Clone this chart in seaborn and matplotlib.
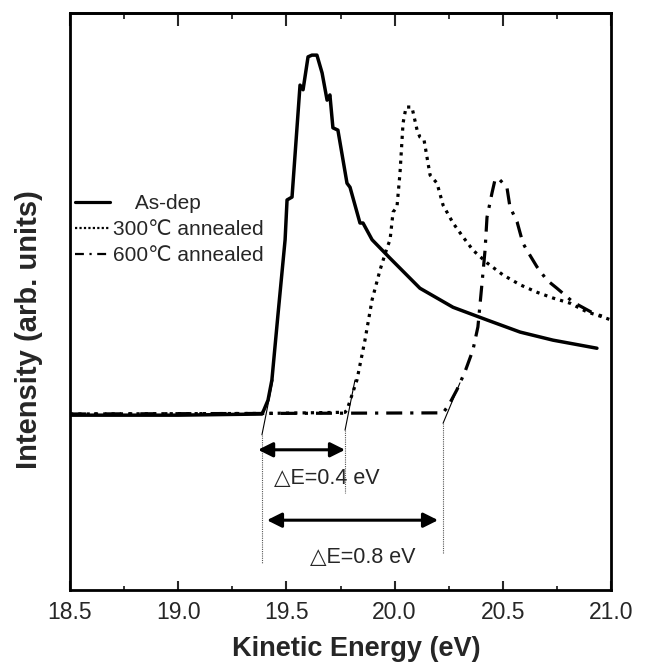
import matplotlib
matplotlib.use("Agg")
import matplotlib.pyplot as plt
import seaborn as sns
import pandas as pd
from matplotlib.lines import Line2D

# ---------------- data ----------------
asdep_E = [18.50, 19.00, 19.387, 19.396, 19.415, 19.433, 19.461, 19.494, 19.503, 19.526,
           19.563, 19.577, 19.600, 19.618, 19.641, 19.665, 19.688, 19.701, 19.715, 19.738,
           19.780, 19.794, 19.840, 19.854, 19.896, 19.979, 20.048, 20.117, 20.270, 20.427,
           20.580, 20.732, 20.935]
asdep_I = [30.3, 30.3, 30.5, 31.2, 32.9, 36.4, 47.7, 60.7, 67.6, 68.1,
           87.5, 86.7, 92.4, 92.7, 92.7, 89.6, 84.9, 85.8, 80.1, 79.7,
           70.5, 69.8, 63.6, 63.6, 60.7, 57.5, 54.9, 52.3, 49.0, 46.8,
           44.7, 43.3, 41.9]

ann300_E = [18.50, 19.40, 19.771, 19.780, 19.803, 19.826, 19.863, 19.896, 19.933, 19.965,
            19.979, 19.993, 20.011, 20.025, 20.039, 20.053, 20.080, 20.104, 20.117, 20.136,
            20.164, 20.196, 20.224, 20.270, 20.316, 20.362, 20.427, 20.501, 20.580, 20.658,
            20.732, 20.811, 20.889, 20.963, 21.0]
ann300_I = [30.5, 30.6, 30.8, 31.2, 33.8, 36.4, 43.3, 50.3, 55.5, 59.3,
            60.7, 65.5, 66.4, 72.3, 80.9, 83.7, 83.7, 79.7, 78.5, 78.0,
            71.9, 70.5, 66.7, 63.6, 61.2, 58.9, 56.7, 54.6, 52.9, 51.6,
            50.6, 49.7, 48.2, 47.3, 46.8]

ann600_E = [18.50, 19.40, 20.224, 20.251, 20.288, 20.325, 20.362, 20.385, 20.404, 20.418,
            20.427, 20.450, 20.464, 20.478, 20.519, 20.533, 20.566, 20.593, 20.616, 20.658,
            20.704, 20.750, 20.797, 20.824, 20.917, 20.972]
ann600_I = [30.5, 30.6, 30.7, 32.1, 34.7, 37.8, 41.6, 45.6, 53.2, 58.9,
            64.6, 68.8, 71.1, 71.4, 69.8, 66.4, 63.8, 60.1, 58.6, 56.0,
            53.7, 52.3, 50.8, 49.9, 48.0, 47.3]

series_labels = ["    As-dep", "300\u2103 annealed", "600\u2103 annealed"]

# onset (extrapolated) energies and tangent lines
onset_E = [19.387, 19.771, 20.224]
tangent_top_E = [19.438, 19.817, 20.302]
tangent_top_I = [36.4, 36.4, 35.9]
tangent_bot_I = [26.9, 27.7, 28.9]
guide_bot_I = [4.7, 16.8, 6.4]

delta_labels = ["\u25b3E=0.4 eV", "\u25b3E=0.8 eV"]

x_major = [18.5, 19.0, 19.5, 20.0, 20.5, 21.0]
x_minor = [18.75, 19.25, 19.75, 20.25, 20.75]

# ---------------- style ----------------
sns.set_style("ticks")
plt.rcParams["font.family"] = ["Liberation Sans", "DejaVu Sans"]

fig = plt.figure(figsize=(6.48, 6.66), dpi=100)
ax = fig.add_axes([70 / 648, 76 / 666, 541 / 648, 577 / 666])

df1 = pd.DataFrame({"E": asdep_E, "I": asdep_I})
df2 = pd.DataFrame({"E": ann300_E, "I": ann300_I})
df3 = pd.DataFrame({"E": ann600_E, "I": ann600_I})

sns.lineplot(data=df3, x="E", y="I", ax=ax, color="black", lw=2.3, sort=False,
             estimator=None, linestyle=(0, (5, 2.5, 1, 2.5)))
sns.lineplot(data=df2, x="E", y="I", ax=ax, color="black", lw=2.3, sort=False,
             estimator=None, linestyle=(0, (1, 1.6)))
sns.lineplot(data=df1, x="E", y="I", ax=ax, color="black", lw=2.5, sort=False,
             estimator=None, linestyle="-")

# tangent lines and onset guides
for e0, et, it, ib, gb in zip(onset_E, tangent_top_E, tangent_top_I, tangent_bot_I, guide_bot_I):
    ax.plot([et, e0], [it, ib], color="black", lw=0.8)
    ax.plot([e0, e0], [ib, gb], color="#555555", lw=0.8, linestyle=(0, (1, 1)))

# delta-E arrows
arrow_kw = dict(arrowstyle="<|-|>", color="black", lw=2.2, mutation_scale=22,
                shrinkA=0, shrinkB=0)
ax.annotate("", xy=(onset_E[1], 24.3), xytext=(19.369, 24.3), arrowprops=arrow_kw)
ax.annotate("", xy=(20.201, 12.1), xytext=(19.410, 12.1), arrowprops=arrow_kw)
ax.text(19.688, 19.4, delta_labels[0], ha="center", va="center", fontsize=15.5,
        family=["Liberation Sans", "DejaVu Sans"])
ax.text(19.854, 5.7, delta_labels[1], ha="center", va="center", fontsize=15.5,
        family=["Liberation Sans", "DejaVu Sans"])

# legend
handles = [Line2D([], [], color="black", lw=2.3),
           Line2D([], [], color="black", lw=1.6, linestyle=(0, (1, 1))),
           Line2D([], [], color="black", lw=1.6, linestyle=(0, (4, 2.5, 1, 2.5)))]
ax.legend(handles=handles, labels=series_labels, loc="upper left",
          bbox_to_anchor=(0.009, 0.686), frameon=False, handlelength=1.7,
          handletextpad=0.15, labelspacing=0.33, borderpad=0, borderaxespad=0,
          fontsize=15)

# axes
ax.set_xlim(18.5, 21.0)
ax.set_ylim(0, 100)
ax.set_yticks([])
ax.set_xticks(x_major)
ax.set_xticks(x_minor, minor=True)
ax.set_xticklabels([f"{v:.1f}" for v in x_major], fontsize=16.5)
ax.tick_params(axis="x", which="major", direction="in", length=6.5, width=1.5, pad=8)
ax.tick_params(axis="x", which="minor", direction="in", length=3, width=1.3)

sec = ax.secondary_xaxis("top")
sec.set_xticks(x_major)
sec.set_xticks(x_minor, minor=True)
sec.tick_params(axis="x", which="major", direction="in", length=9, width=1.5, labeltop=False)
sec.tick_params(axis="x", which="minor", direction="in", length=4.5, width=1.3)
sec.spines["top"].set_linewidth(2)

for s in ["left", "right", "top", "bottom"]:
    ax.spines[s].set_visible(True)
    ax.spines[s].set_linewidth(2)
    ax.spines[s].set_color("black")

ax.set_xlabel("Kinetic Energy (eV)", fontsize=19.5, fontweight="bold")
ax.set_ylabel("Intensity (arb. units)", fontsize=21, fontweight="bold")
ax.xaxis.set_label_coords(0.53, -0.08)
ax.yaxis.set_label_coords(-0.05, 0.452)

fig.savefig("out.png", dpi=100, facecolor="white")
